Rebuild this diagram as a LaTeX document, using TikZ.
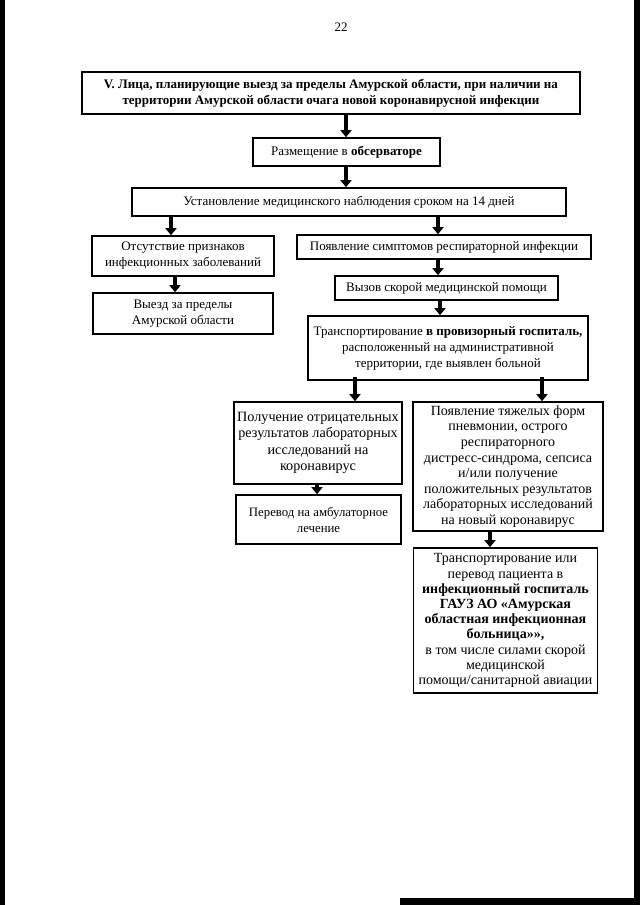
\documentclass[tikz,border=0pt]{standalone}
\usepackage{fontspec}
\setmainfont{Liberation Serif}
\usetikzlibrary{arrows.meta}
\begin{document}
\begin{tikzpicture}[x=1pt,y=-1pt,
  box/.style={draw, line width=1.6pt, align=center, inner sep=0pt,
    font=\fontsize{13}{16}\selectfont},
  bigbox/.style={box, font=\fontsize{14}{15.6}\selectfont},
  arr/.style={line width=4pt, -{Triangle[width=11pt,length=7pt]}}]
\useasboundingbox (0,0) rectangle (640,905);
% scan edges
\fill[black] (0,0) rectangle (5,905);
\fill[black] (634,0) rectangle (640,905);
\fill[black] (400,898) rectangle (640,905);
\node[font=\fontsize{13}{14}\selectfont] (pg) at (341,27) {22};
\node[box, line width=2pt, minimum width=498, minimum height=42] (b1) at (331,93)
  {\bfseries V. Лица, планирующие выезд за пределы Амурской области, при наличии на\\
   \bfseries территории Амурской области очага новой коронавирусной инфекции};
\node[box, minimum width=187, minimum height=28] (b2) at (346.5,152)
  {Размещение в \textbf{обсерваторе}};
\node[box, minimum width=434, minimum height=28] (b3) at (349,202)
  {Установление медицинского наблюдения сроком на 14 дней};
\node[box, minimum width=182, minimum height=40] (b4) at (183,256)
  {Отсутствие признаков\\инфекционных заболеваний};
\node[box, minimum width=294, minimum height=24] (b5) at (444,247)
  {Появление симптомов респираторной инфекции};
\node[box, minimum width=223, minimum height=24] (b6) at (446.5,288)
  {Вызов скорой медицинской помощи};
\node[box, minimum width=180, minimum height=41] (b7) at (183,313.5)
  {Выезд за пределы\\Амурской области};
\node[box, minimum width=280, minimum height=64] (b8) at (448,348)
  {Транспортирование \textbf{в провизорный госпиталь,}\\расположенный на административной\\территории, где выявлен больной};
\node[bigbox, font=\fontsize{14.2}{16.5}\selectfont, minimum width=168, minimum height=82] (b9) at (318,443)
  {Получение отрицательных\\результатов лабораторных\\исследований на\\коронавирус};
\node[bigbox, minimum width=190, minimum height=129] (b10) at (508,466.5)
  {Появление тяжелых форм\\пневмонии, острого\\респираторного\\дистресс-синдрома, сепсиса\\и/или получение\\положительных результатов\\лабораторных исследований\\на новый коронавирус};
\node[box, font=\fontsize{12.8}{16}\selectfont, minimum width=165, minimum height=49] (b11) at (318.5,519.5)
  {Перевод на амбулаторное\\лечение};
\node[bigbox, font=\fontsize{14}{15.2}\selectfont, minimum width=184, minimum height=145] (b12) at (505.5,620.5)
  {Транспортирование или\\перевод пациента в\\\textbf{инфекционный госпиталь}\\\textbf{ГАУЗ АО «Амурская}\\\textbf{областная инфекционная}\\\textbf{больница»»,}\\в том числе силами скорой\\медицинской\\помощи/санитарной авиации};
% arrow columns
\coordinate (a1) at (346,0);
\coordinate (a3) at (171,0);
\coordinate (a4) at (438,0);
\coordinate (a6) at (440,0);
\coordinate (a7) at (175,0);
\coordinate (a8) at (355,0);
\coordinate (a9) at (542,0);
\coordinate (a10) at (317,0);
\coordinate (a11) at (490,0);
\draw[arr] (b1.south -| a1) -- (b2.north -| a1);
\draw[arr] (b2.south -| a1) -- (b3.north -| a1);
\draw[arr] (b3.south -| a3) -- (b4.north -| a3);
\draw[arr] (b3.south -| a4) -- (b5.north -| a4);
\draw[arr] (b5.south -| a4) -- (b6.north -| a4);
\draw[arr] (b6.south -| a6) -- (b8.north -| a6);
\draw[arr] (b4.south -| a7) -- (b7.north -| a7);
\draw[arr] ([yshift=4]b8.south -| a8) -- (b9.north -| a8);
\draw[arr] ([yshift=4]b8.south -| a9) -- (b10.north -| a9);
\draw[arr] (b9.south -| a10) -- (b11.north -| a10);
\draw[arr] (b10.south -| a11) -- (b12.north -| a11);
\end{tikzpicture}
\end{document}
